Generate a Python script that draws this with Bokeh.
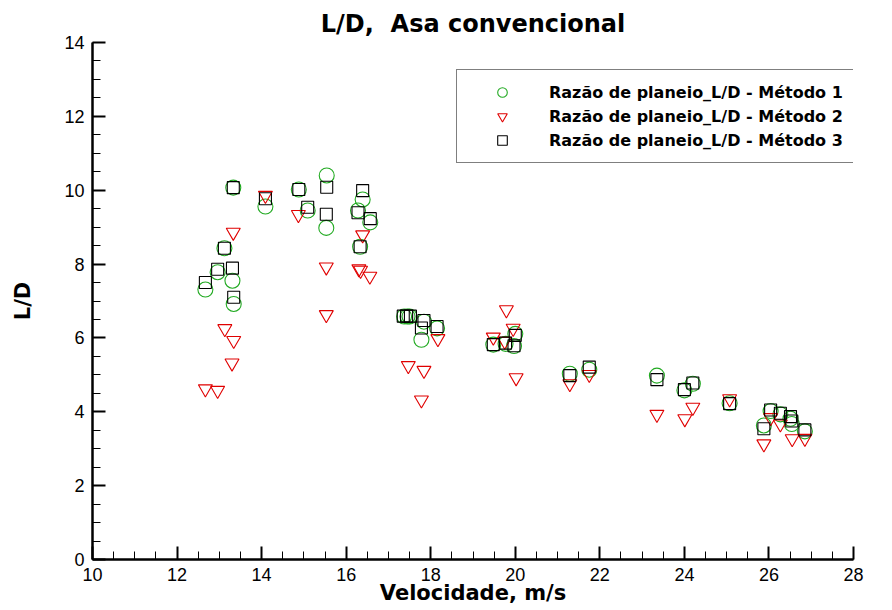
from bokeh.plotting import figure
from bokeh.models import Range1d, SingleIntervalTicker, Legend, LegendItem
from bokeh.embed import file_html
from bokeh.resources import INLINE

# Método 1 (circles)
m1_x = [12.67, 12.96, 13.12, 13.31, 13.33, 13.34, 14.09, 14.88, 15.09, 15.54, 15.53,
        16.28, 16.39, 16.57, 16.33, 17.37, 17.45, 17.50, 17.84, 17.78, 18.15, 19.48,
        19.77, 19.97, 20.00, 21.29, 21.75, 23.35, 24.00, 24.20, 25.07, 25.88, 26.04,
        26.27, 26.51, 26.54, 26.85]
m1_y = [7.31, 7.78, 8.43, 7.55, 10.07, 6.92, 9.56, 10.02, 9.45, 10.40, 8.98,
        9.45, 9.75, 9.13, 8.47, 6.58, 6.58, 6.58, 6.44, 5.95, 6.26, 5.82,
        5.84, 5.78, 6.11, 5.03, 5.14, 4.98, 4.58, 4.76, 4.23, 3.63, 4.02,
        3.93, 3.81, 3.67, 3.47]

# Método 2 (inverted triangles)
m2_x = [12.67, 12.96, 13.13, 13.34, 13.30, 13.33, 14.09, 14.87, 15.53, 15.53,
        16.39, 16.30, 16.34, 16.56, 17.47, 17.84, 17.78, 18.17, 19.79, 19.95,
        19.48, 19.75, 20.02, 21.29, 21.75, 23.35, 24.20, 24.01, 25.07, 26.04,
        25.88, 26.27, 26.55, 26.85]
m2_y = [4.62, 4.58, 6.25, 5.93, 5.32, 8.86, 9.86, 9.34, 7.92, 6.63,
        8.79, 7.87, 7.83, 7.67, 5.25, 5.12, 4.32, 5.98, 6.76, 6.26,
        6.02, 5.91, 4.92, 4.76, 5.01, 3.93, 4.12, 3.81, 4.35, 3.84,
        3.13, 3.67, 3.27, 3.28]

# Método 3 (squares)
m3_x = [12.67, 12.96, 13.12, 13.31, 13.33, 13.34, 14.09, 14.88, 15.09, 15.54, 15.53,
        16.28, 16.39, 16.57, 16.33, 17.35, 17.43, 17.52, 17.84, 17.78, 18.15, 19.48,
        19.77, 19.97, 20.00, 21.29, 21.75, 23.35, 24.00, 24.20, 25.07, 25.88, 26.04,
        26.27, 26.51, 26.54, 26.85]
m3_y = [7.50, 7.86, 8.43, 7.89, 10.07, 7.10, 9.77, 10.02, 9.54, 10.08, 9.35,
        9.39, 9.99, 9.23, 8.47, 6.59, 6.59, 6.59, 6.47, 6.27, 6.31, 5.82,
        5.86, 5.79, 6.07, 4.98, 5.21, 4.87, 4.60, 4.78, 4.22, 3.54, 4.05,
        3.96, 3.87, 3.75, 3.51]

labels = ["Razão de planeio_L/D - Método 1",
          "Razão de planeio_L/D - Método 2",
          "Razão de planeio_L/D - Método 3"]

p = figure(width=892, height=610, output_backend="svg", toolbar_location=None,
           x_range=Range1d(10, 28), y_range=Range1d(0, 14),
           min_border_left=92, min_border_right=39, min_border_top=42, min_border_bottom=51,
           title="L/D,\u00a0 Asa convencional")
p.outline_line_color = None
p.grid.visible = False
p.background_fill_color = "white"
p.border_fill_color = "white"

p.title.text_font = "DejaVu Sans"
p.title.text_font_style = "bold"
p.title.text_font_size = "24px"
p.title.align = "center"
p.title.text_color = "black"

for ax, lab in ((p.xaxis[0], "Velocidade, m/s"), (p.yaxis[0], "L/D")):
    ax.axis_label = lab
    ax.axis_label_text_font = "DejaVu Sans"
    ax.axis_label_text_font_style = "bold"
    ax.axis_label_text_font_size = "21px"
    ax.axis_label_text_color = "black"
    ax.major_label_text_font = "Liberation Sans"
    ax.major_label_text_font_size = "18px"
    ax.major_label_text_color = "black"
    ax.axis_line_width = 2.5
    ax.axis_line_color = "black"
    ax.major_tick_in = 13
    ax.major_tick_out = 0
    ax.minor_tick_in = 8
    ax.minor_tick_out = 0
    ax.major_tick_line_width = 2
    ax.major_tick_line_color = "black"
    ax.minor_tick_line_width = 1
    ax.minor_tick_line_color = "black"
    ax.ticker = SingleIntervalTicker(interval=2, num_minor_ticks=4)

p.xaxis.major_label_standoff = 8
p.xaxis.axis_label_standoff = -3
p.yaxis.major_label_standoff = 8
p.yaxis.axis_label_standoff = 26

r1 = p.scatter(m1_x, m1_y, marker="circle", size=15, fill_color=None,
               line_color="#22aa22", line_width=1.1)
r2 = p.scatter(m2_x, m2_y, marker="inverted_triangle", size=14, fill_color=None,
               line_color="#e00000", line_width=1.1)
r3 = p.scatter(m3_x, m3_y, marker="square", size=12, fill_color=None,
               line_color="black", line_width=1.1)

legend = Legend(items=[LegendItem(label=labels[0], renderers=[r1]),
                       LegendItem(label=labels[1], renderers=[r2]),
                       LegendItem(label=labels[2], renderers=[r3])],
                location=(364, 396), padding=10, spacing=0, margin=0,
                glyph_width=70, glyph_height=24, label_height=24, label_standoff=12,
                label_text_font="DejaVu Sans", label_text_font_style="bold",
                label_text_font_size="16px", label_text_color="black",
                border_line_color="black", border_line_width=1.5,
                background_fill_color="white", background_fill_alpha=1.0)
p.add_layout(legend, "center")

open("out.html", "w").write(file_html(p, INLINE))
